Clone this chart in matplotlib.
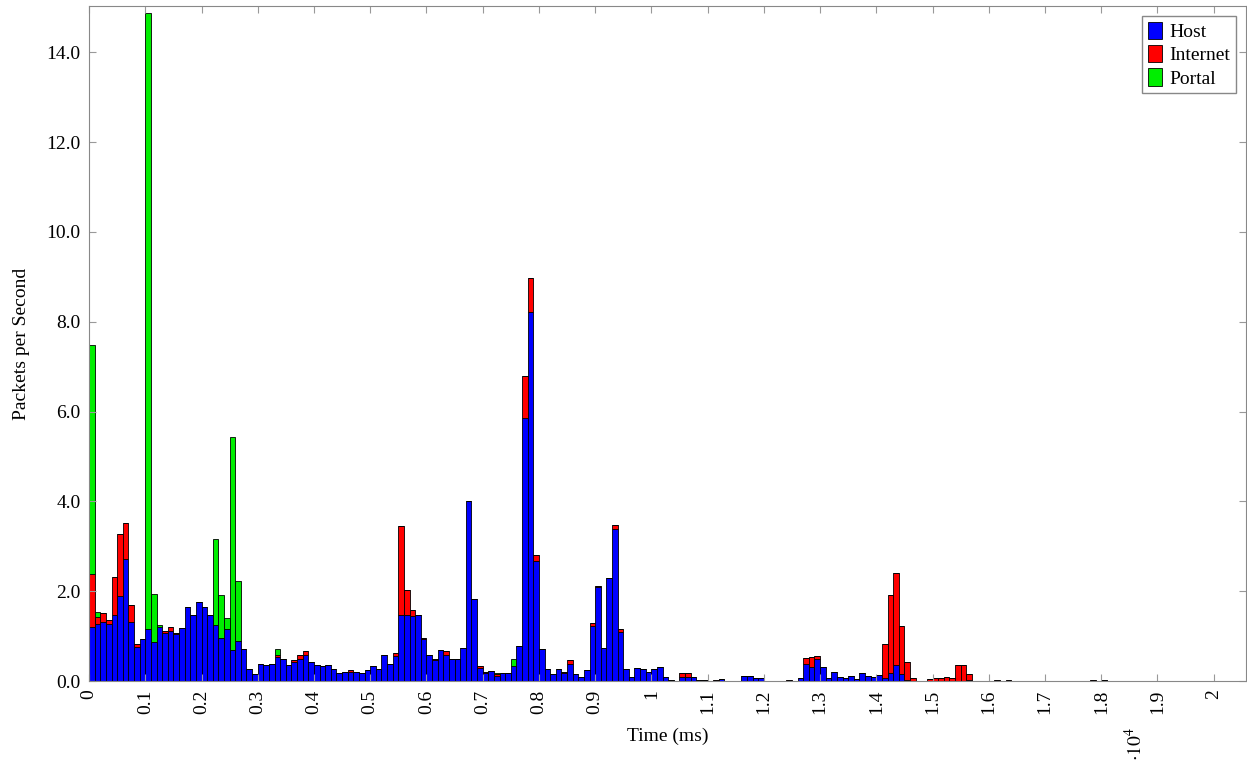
import numpy as np
import matplotlib
matplotlib.use("Agg")
import matplotlib.pyplot as plt

# packets per second per 0.01 (x10^4 ms) bin
host = [
    1.21, 1.27, 1.31, 1.28, 1.48, 1.89, 2.71, 1.31, 0.75, 0.94,
    1.17, 0.88, 1.21, 1.06, 1.11, 1.05, 1.18, 1.64, 1.48, 1.77,
    1.64, 1.48, 1.24, 0.97, 1.15, 0.69, 0.89, 0.71, 0.28, 0.15,
    0.39, 0.36, 0.39, 0.53, 0.50, 0.36, 0.42, 0.50, 0.58, 0.42,
    0.36, 0.33, 0.36, 0.28, 0.19, 0.20, 0.21, 0.20, 0.19, 0.24,
    0.33, 0.27, 0.58, 0.39, 0.56, 1.48, 1.48, 1.46, 1.48, 0.93,
    0.58, 0.47, 0.69, 0.59, 0.50, 0.50, 0.74, 4.02, 1.83, 0.30,
    0.19, 0.23, 0.12, 0.19, 0.18, 0.34, 0.79, 5.85, 8.22, 2.68,
    0.71, 0.26, 0.15, 0.26, 0.17, 0.39, 0.15, 0.10, 0.24, 1.22,
    2.09, 0.74, 2.29, 3.39, 1.09, 0.26, 0.10, 0.29, 0.26, 0.20,
    0.26, 0.31, 0.10, 0.02, 0.00, 0.10, 0.10, 0.10, 0.02, 0.02,
    0.00, 0.00, 0.04, 0.00, 0.00, 0.00, 0.12, 0.12, 0.07, 0.07,
    0.00, 0.00, 0.00, 0.00, 0.00, 0.00, 0.07, 0.38, 0.31, 0.49,
    0.31, 0.07, 0.20, 0.09, 0.07, 0.11, 0.04, 0.18, 0.11, 0.10,
    0.13, 0.08, 0.19, 0.36, 0.16, 0.02, 0.00, 0.00, 0.00, 0.00,
    0.00, 0.00, 0.00, 0.00, 0.00, 0.00, 0.02, 0.00, 0.00, 0.00,
    0.00, 0.00, 0.00, 0.00, 0.00, 0.00, 0.00, 0.00, 0.00, 0.00,
    0.00, 0.00, 0.00, 0.00, 0.00, 0.00, 0.00, 0.00, 0.00, 0.00,
    0.02, 0.00, 0.00, 0.00, 0.00, 0.00, 0.00, 0.00, 0.00, 0.00,
]
internet = [
    1.17, 0.15, 0.20, 0.09, 0.84, 1.38, 0.82, 0.38, 0.07, 0.00,
    0.00, 0.00, 0.00, 0.06, 0.10, 0.03, 0.00, 0.00, 0.00, 0.00,
    0.00, 0.00, 0.00, 0.00, 0.00, 0.00, 0.00, 0.00, 0.00, 0.00,
    0.00, 0.00, 0.00, 0.04, 0.00, 0.00, 0.06, 0.07, 0.08, 0.00,
    0.00, 0.00, 0.00, 0.00, 0.00, 0.00, 0.04, 0.00, 0.00, 0.00,
    0.00, 0.00, 0.00, 0.00, 0.07, 1.97, 0.55, 0.12, 0.00, 0.02,
    0.00, 0.03, 0.00, 0.07, 0.00, 0.00, 0.00, 0.00, 0.00, 0.04,
    0.02, 0.00, 0.04, 0.00, 0.00, 0.00, 0.00, 0.95, 0.75, 0.13,
    0.00, 0.00, 0.00, 0.00, 0.04, 0.09, 0.00, 0.00, 0.00, 0.08,
    0.03, 0.00, 0.00, 0.08, 0.08, 0.00, 0.00, 0.00, 0.00, 0.00,
    0.00, 0.00, 0.00, 0.00, 0.00, 0.09, 0.07, 0.00, 0.00, 0.00,
    0.00, 0.02, 0.00, 0.00, 0.00, 0.00, 0.00, 0.00, 0.00, 0.00,
    0.00, 0.00, 0.00, 0.00, 0.02, 0.00, 0.00, 0.13, 0.23, 0.07,
    0.00, 0.00, 0.00, 0.00, 0.00, 0.00, 0.00, 0.00, 0.00, 0.00,
    0.00, 0.74, 1.72, 2.04, 1.07, 0.40, 0.06, 0.00, 0.00, 0.04,
    0.08, 0.06, 0.09, 0.06, 0.36, 0.36, 0.13, 0.00, 0.00, 0.00,
    0.00, 0.02, 0.00, 0.02, 0.00, 0.00, 0.00, 0.00, 0.00, 0.00,
    0.00, 0.00, 0.00, 0.00, 0.00, 0.00, 0.00, 0.00, 0.02, 0.00,
    0.00, 0.00, 0.00, 0.00, 0.00, 0.00, 0.00, 0.00, 0.00, 0.00,
]
portal = [0.0] * 190
portal_peaks = {0: 5.11, 1: 0.12, 10: 13.71, 11: 1.06, 12: 0.04,
                22: 1.92, 23: 0.95, 24: 0.25, 25: 4.74, 26: 1.34,
                33: 0.15, 72: 0.03, 75: 0.16}
for i, v in portal_peaks.items():
    portal[i] = v

bin_width = 0.01
x_ticks = np.round(np.arange(0, 2.01, 0.1), 1)
x_tick_labels = ["0" if t == 0 else ("%g" % t) for t in x_ticks]
y_ticks = np.arange(0, 15, 2.0)

plt.rcParams["font.family"] = ["Liberation Serif", "DejaVu Serif"]
plt.rcParams["mathtext.fontset"] = "stix"

fig = plt.figure(figsize=(12.47, 7.61), dpi=100)
ax = fig.add_axes([0.0714, 0.105, 0.9276, 0.887])

x = np.arange(len(host)) * bin_width
host = np.array(host)
internet = np.array(internet)
portal = np.array(portal)

kw = dict(width=bin_width, align="edge", edgecolor="black", linewidth=0.6)
ax.bar(x, host, color="#0000ff", label="Host", **kw)
ax.bar(x, internet, bottom=host, color="#ff0000", label="Internet", **kw)
ax.bar(x, portal, bottom=host + internet, color="#00ee00", label="Portal", **kw)

ax.set_xlim(0, 2.057)
ax.set_ylim(0, 15.03)
ax.set_xticks(x_ticks)
ax.set_xticklabels(x_tick_labels, rotation=90)
ax.set_yticks(y_ticks)
ax.set_yticklabels(["%.1f" % t for t in y_ticks])

ax.tick_params(direction="in", length=5, color="#999999", top=True, right=True,
               labelsize=14)
ax.tick_params(axis="x", pad=6)
ax.tick_params(axis="y", pad=6)
for s in ax.spines.values():
    s.set_color("#888888")

ax.set_xlabel("Time (ms)", fontsize=14, labelpad=10)
ax.set_ylabel("Packets per Second", fontsize=14, labelpad=12)
fig.text(0.910, 0.022, r"$\cdot10^4$", rotation=90, ha="center", va="center",
         fontsize=14)

leg = ax.legend(loc="upper right", fontsize=14, fancybox=False, framealpha=1,
                edgecolor="#888888", handlelength=0.7, handleheight=1.0,
                handletextpad=0.4, borderpad=0.3, labelspacing=0.2)

fig.savefig("out.png", dpi=100)
